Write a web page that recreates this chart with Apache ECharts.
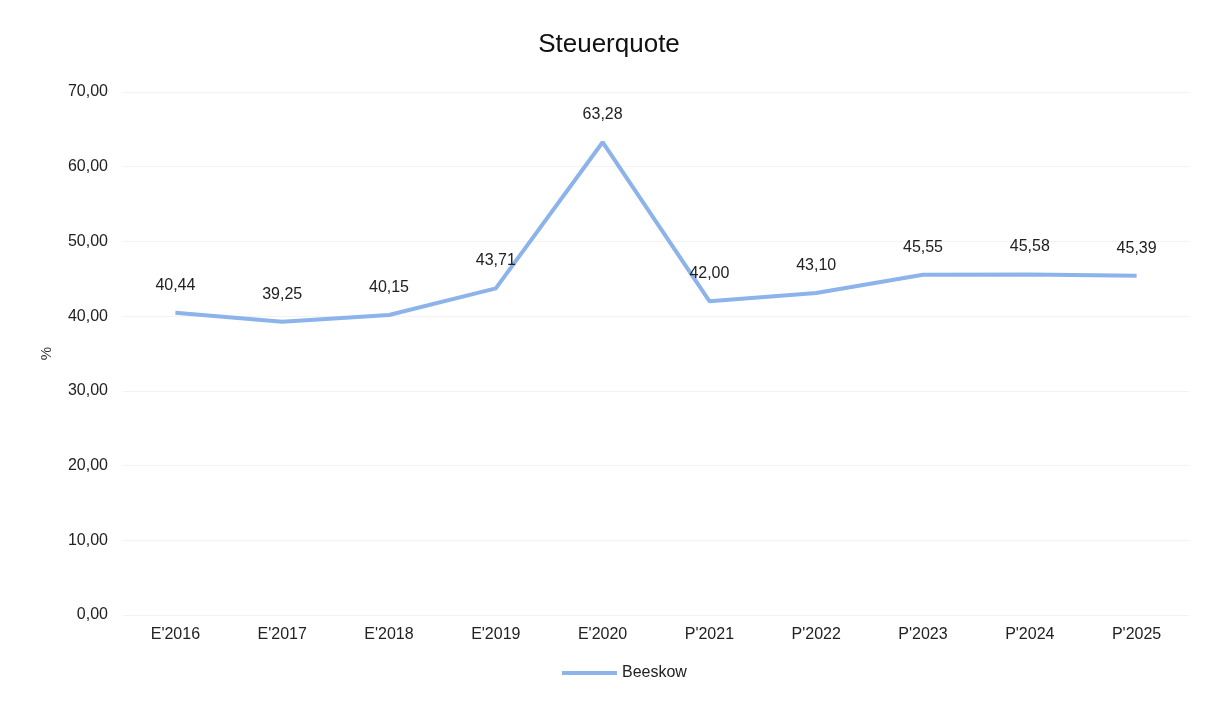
<!DOCTYPE html>
<html><head><meta charset="utf-8">
<script src="https://cdn.jsdelivr.net/npm/echarts@6/dist/echarts.min.js"></script>
<style>html,body{margin:0;padding:0;background:#fff}#c{width:1218px;height:703px}</style>
</head><body><div id="c"></div>
<script>
const categories = ["E'2016","E'2017","E'2018","E'2019","E'2020","P'2021","P'2022","P'2023","P'2024","P'2025"];
const beeskow = [40.44, 39.25, 40.15, 43.71, 63.28, 42.00, 43.10, 45.55, 45.58, 45.39];
const seriesName = "Beeskow";
const titleText = "Steuerquote";
const yName = "%";
const fmt = v => Number(v).toFixed(2).replace('.', ',');
const chart = echarts.init(document.getElementById('c'));
chart.setOption({
  backgroundColor: '#fff',
  textStyle: {fontFamily: 'Liberation Sans, Arial, sans-serif'},
  title: {text: titleText, left: 'center', top: 27, textStyle: {fontSize: 26, fontWeight: 'normal', color: '#111'}},
  grid: {left: 122, right: 28, top: 92, bottom: 88},
  legend: {bottom: 17, left: 557, itemWidth: 55, itemHeight: 4, icon: 'rect', itemGap: 4,
    itemStyle: {color: '#8cb3ea', opacity: 1},
    textStyle: {fontSize: 16, color: '#222'}, data: [seriesName]},
  xAxis: {type: 'category', data: categories, boundaryGap: true,
    axisLine: {show: false}, axisTick: {show: false},
    axisLabel: {fontSize: 16, color: '#222', margin: 12}},
  yAxis: {type: 'value', min: 0, max: 70, interval: 10, name: yName, nameLocation: 'middle', nameGap: 68,
    nameRotate: 90, nameTextStyle: {fontSize: 15, color: '#333'},
    axisLabel: {fontSize: 16, color: '#222', margin: 14, formatter: fmt},
    splitLine: {lineStyle: {color: '#f3f3f3'}}},
  series: [{name: seriesName, type: 'line', data: beeskow, showSymbol: true, symbol: 'circle', symbolSize: 1,
    lineStyle: {color: '#8cb3ea', width: 4}, itemStyle: {color: '#8cb3ea', opacity: 0},
    label: {show: true, position: 'top', distance: 19, fontSize: 16, color: '#222', opacity: 1, formatter: p => fmt(p.value)}}]
});
</script></body></html>
